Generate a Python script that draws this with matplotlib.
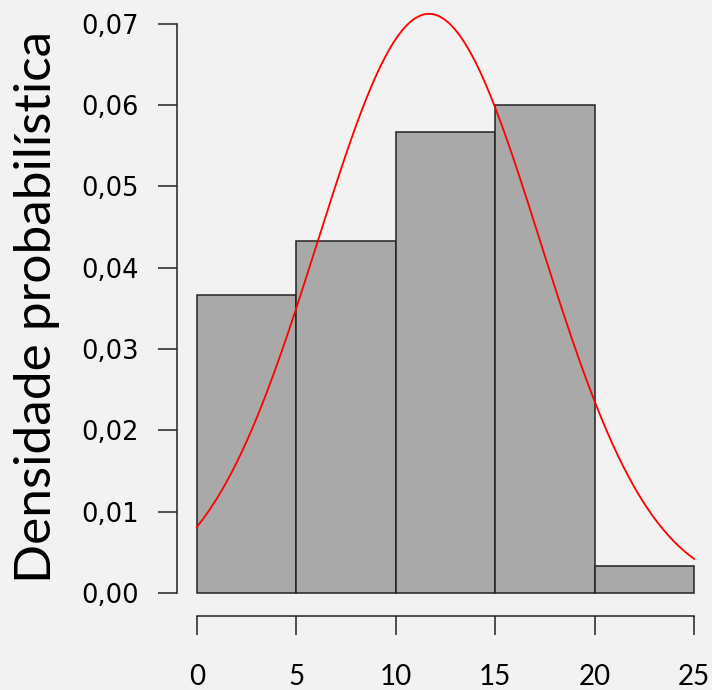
import matplotlib.pyplot as plt
import numpy as np

# histogram (density)
bin_edges = [0, 5, 10, 15, 20, 25]
densities = [0.03667, 0.04333, 0.05667, 0.06000, 0.00333]

# fitted normal curve
curve_mean = 11.67
curve_sd = 5.6

x_ticks = [0, 5, 10, 15, 20, 25]
y_ticks = [0.00, 0.01, 0.02, 0.03, 0.04, 0.05, 0.06, 0.07]
y_label = "Densidade probabilística"


def main():
    bg = "#f2f2f2"
    fig = plt.figure(figsize=(7.12, 6.90), dpi=100, facecolor=bg)
    ax = fig.add_axes([0.2486, 0.1072, 0.7542, 0.9029])
    ax.set_facecolor(bg)

    lefts = np.array(bin_edges[:-1])
    widths = np.diff(bin_edges)
    ax.bar(
        lefts,
        densities,
        width=widths,
        align="edge",
        color="#a9a9a9",
        edgecolor="#222222",
        linewidth=1.1,
    )

    xs = np.linspace(0, 25, 300)
    ys = np.exp(-0.5 * ((xs - curve_mean) / curve_sd) ** 2) / (
        curve_sd * np.sqrt(2 * np.pi)
    )
    ax.plot(xs, ys, color="#ff0000", linewidth=1.3)

    ax.set_xlim(-1, 26)
    ax.set_ylim(-0.00284, 0.0738)

    for side in ["top", "right"]:
        ax.spines[side].set_visible(False)
    ax.spines["left"].set_bounds(0, 0.07)
    ax.spines["bottom"].set_bounds(0, 25)
    for side in ["left", "bottom"]:
        ax.spines[side].set_linewidth(1.1)
        ax.spines[side].set_color("#222222")

    ax.set_xticks(x_ticks)
    ax.set_xticklabels([str(t) for t in x_ticks], fontsize=20, family="Lato")
    ax.set_yticks(y_ticks)
    ax.set_yticklabels(
        ["{:.2f}".format(t).replace(".", ",") for t in y_ticks],
        fontsize=18.5,
        family="DejaVu Sans",
    )
    ax.tick_params(axis="x", length=13.7, width=1.1, color="#222222", pad=21)
    ax.tick_params(axis="y", length=13.7, width=1.1, color="#222222", pad=14)

    fig.text(
        0.052,
        0.555,
        y_label,
        rotation=90,
        ha="center",
        va="center",
        fontsize=37,
        family="Lato",
    )

    fig.savefig("out.png", dpi=100, facecolor=bg)


if __name__ == "__main__":
    main()
